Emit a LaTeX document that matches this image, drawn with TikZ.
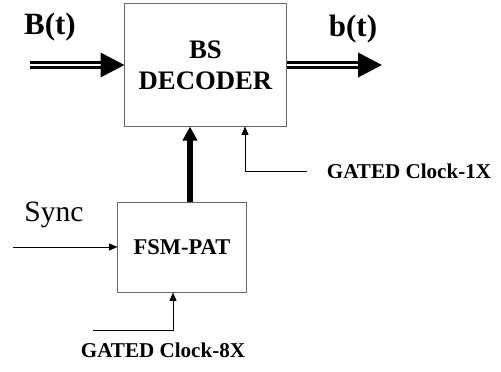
\documentclass[tikz,border=0pt]{standalone}
\usepackage{fontspec}
\setmainfont{Liberation Serif}
\usetikzlibrary{arrows.meta}

\begin{document}
\begin{tikzpicture}[x=0.025cm, y=-0.025cm,
    block/.style={draw=black!60, line width=0.7pt, fill=white, inner sep=0pt},
    bus/.style={double, line width=2.7pt, double distance=0.8pt, -{Triangle[length=17pt, width=17pt]}},
    ctrl/.style={line width=3.6pt, -{Triangle[length=10pt, width=10pt]}},
    sig/.style={line width=0.7pt, -{Triangle[length=6pt, width=5pt]}}]
    \useasboundingbox (0, 0) rectangle (501, 371);

    \node[block, minimum width=4.025cm, minimum height=3.05cm, align=center,
          font=\bfseries\fontsize{19}{22}\selectfont] at (205.5, 65) (dec) {BS\\DECODER};
    \node[block, minimum width=3.2cm, minimum height=2.25cm,
          font=\bfseries\fontsize{16}{19}\selectfont] at (182, 247) (fsm) {FSM-PAT};

    \node[font=\bfseries\fontsize{22}{24}\selectfont] at (50, 27) (lin) {B(t)};
    \node[font=\bfseries\fontsize{22}{24}\selectfont] at (353, 29) (lout) {b(t)};
    \node[font=\fontsize{21}{24}\selectfont] at (54, 215) (lsync) {Sync};
    \node[font=\bfseries\fontsize{15}{18}\selectfont] at (409, 171) (lclk1) {GATED Clock-1X};
    \node[font=\bfseries\fontsize{15}{18}\selectfont] at (163, 350) (lclk8) {GATED Clock-8X};

    \coordinate (bin) at (30, 65);
    \coordinate (bout) at (382, 65);
    \coordinate (s0) at (13, 247);
    \coordinate (c1) at (307, 171);
    \coordinate (k1) at (245, 0);
    \coordinate (c8) at (93, 330);
    \coordinate (k8) at (173, 0);
    \coordinate (t1) at (190, 0);

    \draw[bus] (bin) -- (dec.west);
    \draw[bus] (dec.east) -- (bout);
    \draw[ctrl] (fsm.north -| t1) -- (dec.south -| t1);
    \draw[sig] (c1) -| (dec.south -| k1);
    \draw[sig] (s0) -- (fsm.west);
    \draw[sig] (c8) -| (fsm.south -| k8);
\end{tikzpicture}
\end{document}
